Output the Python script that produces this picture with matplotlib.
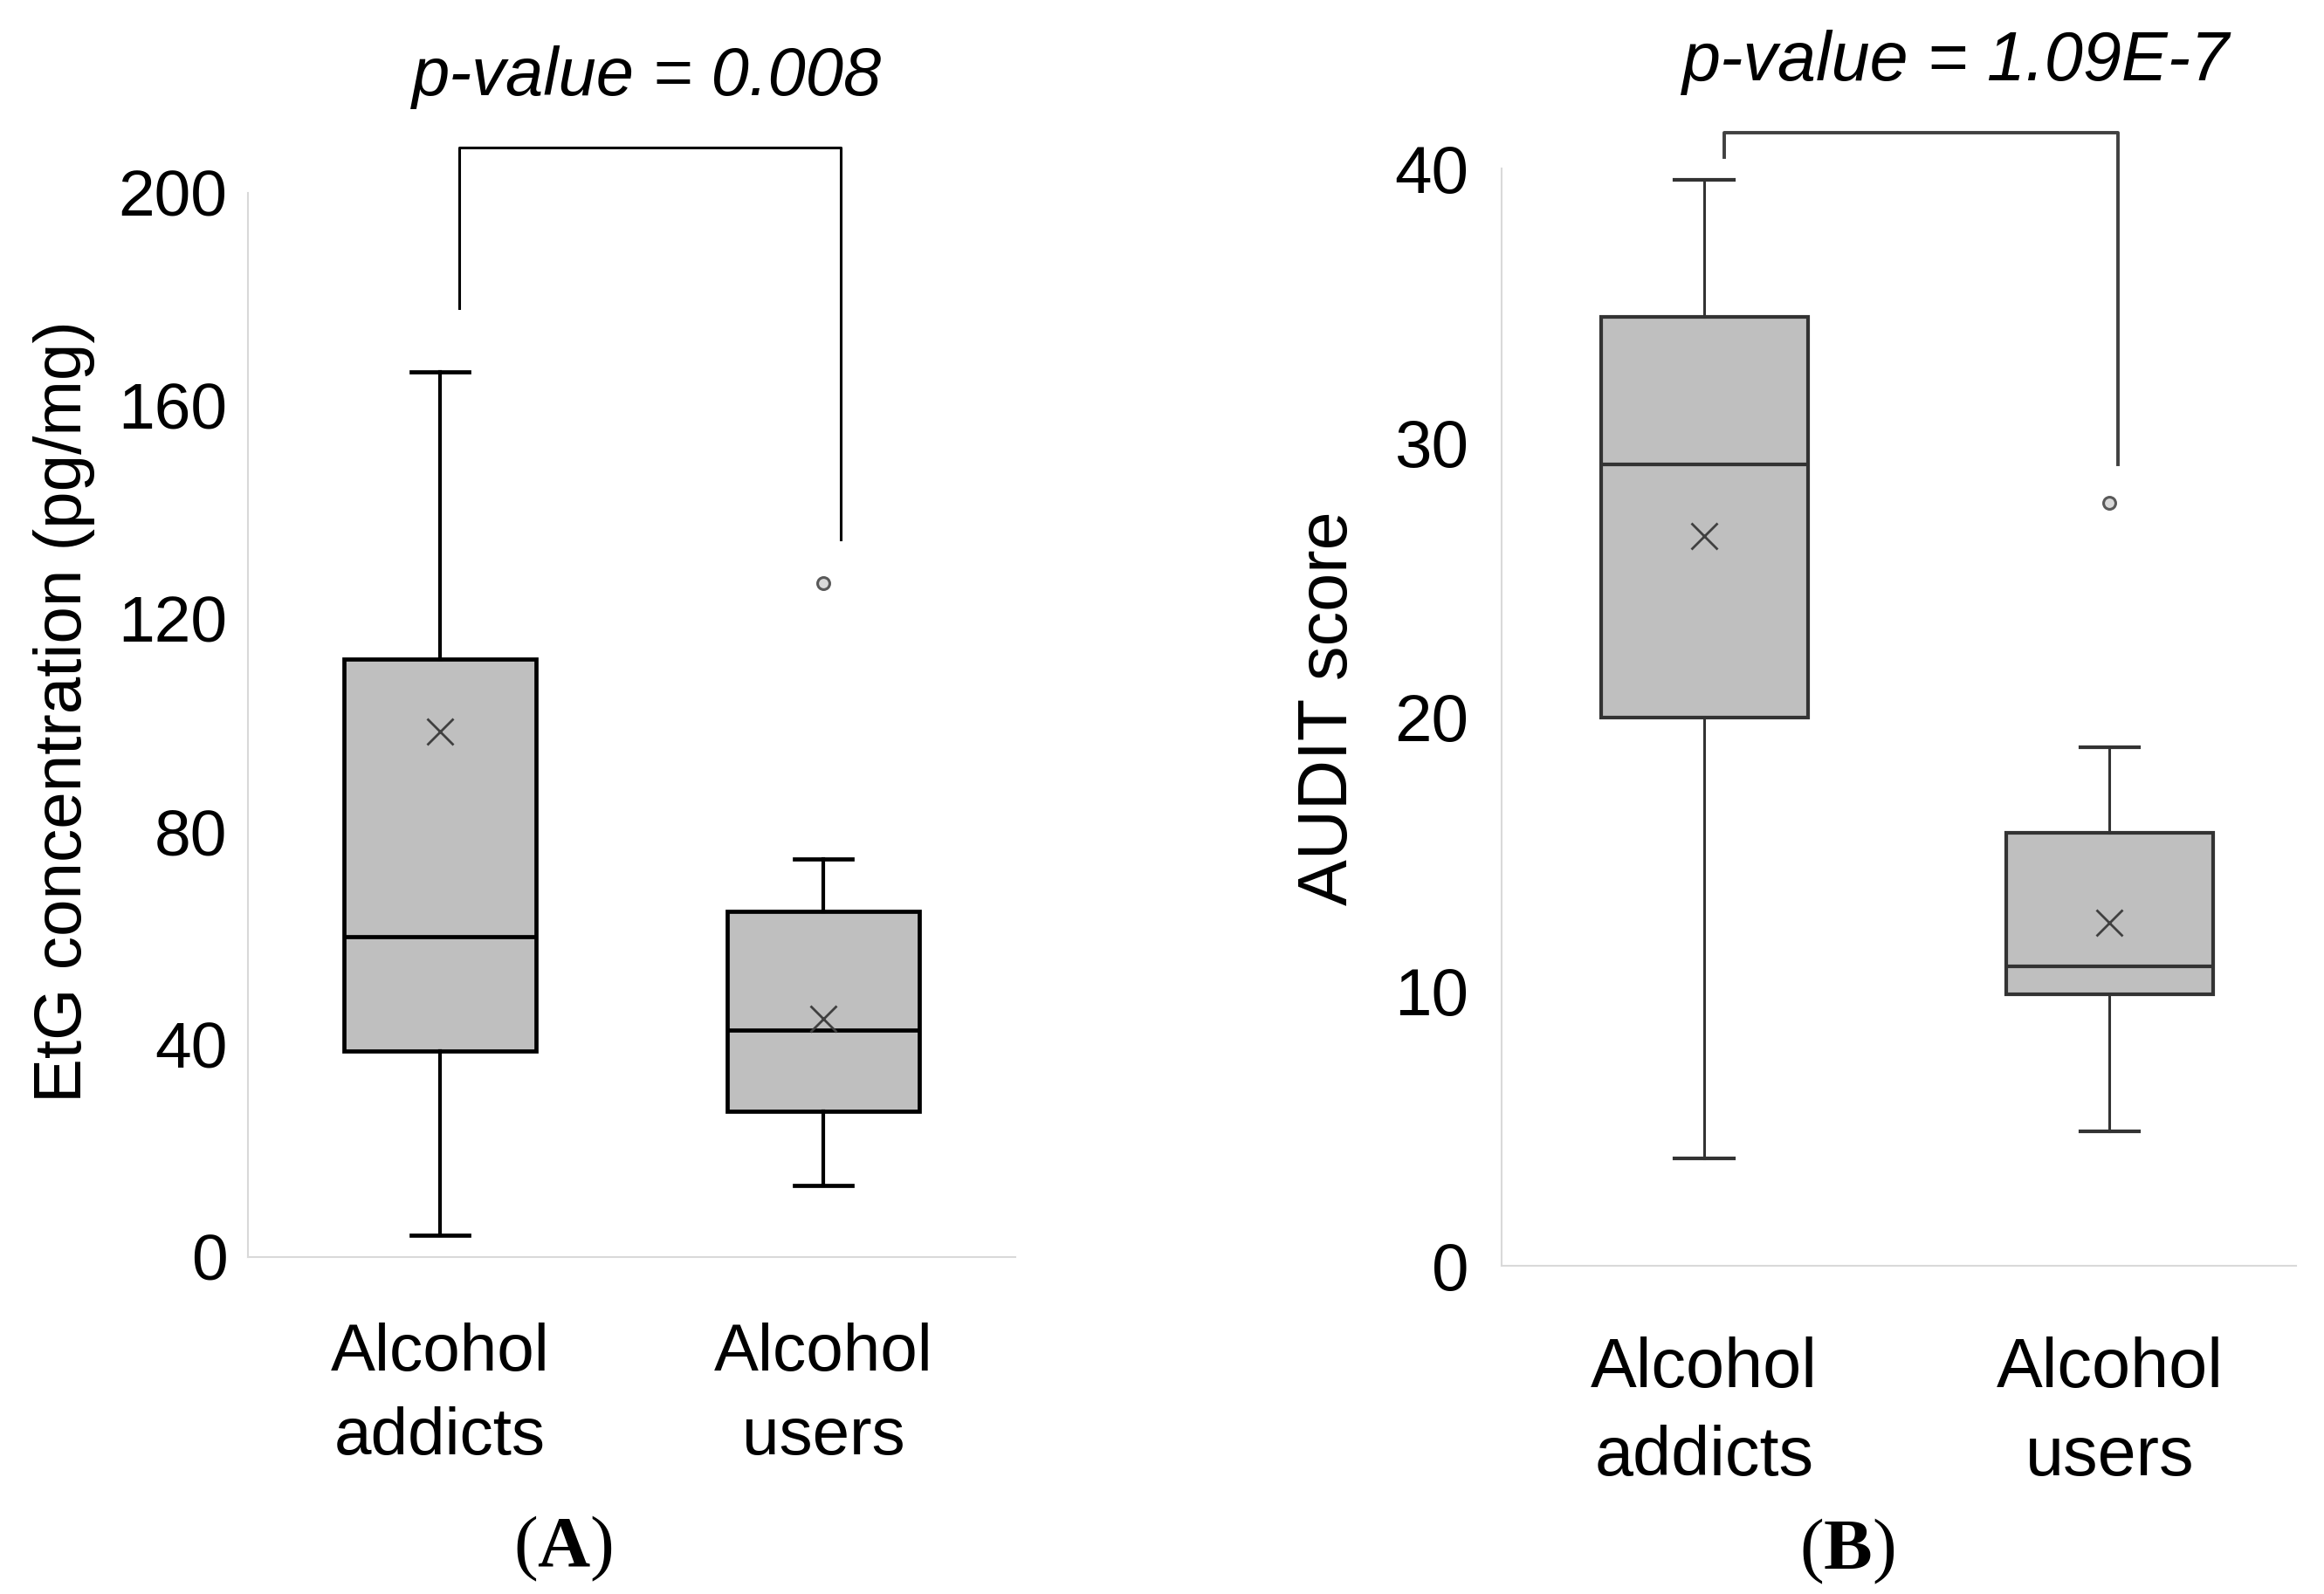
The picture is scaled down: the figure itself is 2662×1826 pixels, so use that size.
import matplotlib
matplotlib.use('Agg')
import matplotlib.pyplot as plt

plt.rcParams['font.family'] = ['Liberation Sans', 'DejaVu Sans']
plt.rcParams['mathtext.fontset'] = 'custom'
plt.rcParams['mathtext.rm'] = 'Liberation Serif'
plt.rcParams['mathtext.bf'] = 'Liberation Serif:bold'

# data
groups = ['Alcohol\naddicts', 'Alcohol\nusers']

etg_lo = [4.1, 13.4]
etg_q1 = [38.7, 27.4]
etg_med = [60.2, 42.6]
etg_q3 = [112.3, 64.9]
etg_hi = [166.4, 74.8]
etg_mean = [98.7, 44.8]
etg_out = [[], [126.6]]
etg_ticks = [0, 40, 80, 120, 160, 200]
etg_p = 'p-value = 0.008'
etg_bracket = [178.4, 208.5, 134.8]   # left end, top, right end

audit_lo = [3.9, 4.9]
audit_q1 = [20.0, 9.9]
audit_med = [29.2, 10.9]
audit_q3 = [34.6, 15.8]
audit_hi = [39.6, 18.9]
audit_mean = [26.6, 12.5]
audit_out = [[], [27.8]]
audit_ticks = [0, 10, 20, 30, 40]
audit_p = 'p-value = 1.09E-7'
audit_bracket = [40.4, 41.3, 29.2]


def stats(lo, q1, med, q3, hi, mean, out):
    res = []
    for i in range(len(lo)):
        res.append(dict(whislo=lo[i], q1=q1[i], med=med[i], q3=q3[i],
                        whishi=hi[i], mean=mean[i], fliers=out[i]))
    return res


def panel(ax, st, col, lw, wlw, width, capw, fs_tick, fs_cat, tpad, xpad):
    ax.bxp(st, positions=[1, 2], widths=width, patch_artist=True,
           showmeans=True, capwidths=capw,
           boxprops=dict(facecolor='#bfbfbf', edgecolor=col, linewidth=lw),
           medianprops=dict(color=col, linewidth=lw),
           whiskerprops=dict(color=col, linewidth=wlw),
           capprops=dict(color=col, linewidth=lw),
           meanprops=dict(marker='x', markersize=22, markeredgewidth=2,
                          markeredgecolor='#404040', markerfacecolor='none'),
           flierprops=dict(marker='o', markersize=10, markeredgewidth=2.2,
                           markeredgecolor='#595959', markerfacecolor='#d9d9d9'))
    for s in ['top', 'right']:
        ax.spines[s].set_visible(False)
    for s in ['left', 'bottom']:
        ax.spines[s].set_color('#d9d9d9')
        ax.spines[s].set_linewidth(1.5)
    ax.tick_params(axis='y', length=0, labelsize=fs_tick, pad=tpad)
    ax.tick_params(axis='x', length=0, labelsize=fs_cat, pad=xpad)
    ax.set_xticks([1, 2])
    ax.set_xticklabels(groups, linespacing=1.45)


fig = plt.figure(figsize=(26.62, 18.26), dpi=100)

# Panel A
axA = fig.add_axes([0.1067, 0.2114, 0.3302, 0.6676])
panel(axA, stats(etg_lo, etg_q1, etg_med, etg_q3, etg_hi, etg_mean, etg_out),
      'black', 3.4, 3.0, 0.5, 0.15, 54, 55, 17, 54)
axA.set_ylim(0, 200)
axA.set_xlim(0.5, 2.5)
axA.set_yticks(etg_ticks)
axA.set_ylabel('EtG concentration (pg/mg)', fontsize=55)
axA.yaxis.set_label_coords(-0.199, 0.513)
axA.plot([1.05, 1.05, 2.045, 2.045],
         [etg_bracket[0], etg_bracket[1], etg_bracket[1], etg_bracket[2]],
         color='black', lw=2.2, clip_on=False)
axA.text(1.54, 218.4, etg_p, style='italic', fontsize=56, ha='center',
         va='baseline', clip_on=False)
fig.text(645 / 2662, 1 - 1774 / 1826, r'($\mathbf{A}$)', fontsize=60,
         family='Liberation Serif', ha='center', va='center')

# Panel B
axB = fig.add_axes([0.6461, 0.2059, 0.3419, 0.6884])
panel(axB, stats(audit_lo, audit_q1, audit_med, audit_q3, audit_hi, audit_mean, audit_out),
      '#333333', 3.0, 2.2, 0.51, 0.146, 55, 57, 27, 58)
axB.set_ylim(0, 40)
axB.set_xlim(0.5, 2.46)
axB.set_yticks(audit_ticks)
axB.set_ylabel('AUDIT score', fontsize=57)
axB.yaxis.set_label_coords(-0.176, 0.508)
axB.plot([1.05, 1.05, 2.02, 2.02],
         [audit_bracket[0], audit_bracket[1], audit_bracket[1], audit_bracket[2]],
         color='#404040', lw=2.8, clip_on=False)
axB.text(1.62, 43.2, audit_p, style='italic', fontsize=57, ha='center',
         va='baseline', clip_on=False)
fig.text(2116 / 2662, 1 - 1777 / 1826, r'($\mathbf{B}$)', fontsize=60,
         family='Liberation Serif', ha='center', va='center')

fig.savefig('out.png', dpi=100)
